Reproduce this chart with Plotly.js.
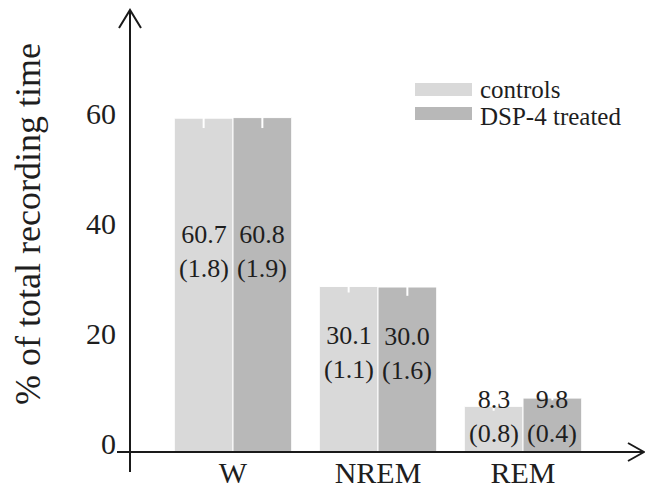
<!DOCTYPE html>
<html><head><meta charset="utf-8">
<script src="https://cdn.plot.ly/plotly-3.0.1.min.js"></script>
<style>html,body{margin:0;padding:0;background:#fff}#chart{width:645px;height:490px}</style>
</head><body><div id="chart"></div>
<script>
// ---- data ----
const categories = ['W', 'NREM', 'REM'];
const seriesNames = ['controls', 'DSP-4 treated'];
const controlsMean = [60.7, 30.1, 8.3];
const controlsSEM = [1.8, 1.1, 0.8];
const treatedMean = [60.8, 30.0, 9.8];
const treatedSEM = [1.9, 1.6, 0.4];
const yTickVals = [0, 20, 40, 60];
const yTitle = '% of total recording time';

// ---- layout helpers ----
const W = 645, H = 490;
const M = {l: 130, r: 5, t: 10, b: 38};
const pw = W - M.l - M.r, ph = H - M.t - M.b;
const px = x => (x - M.l) / pw;
const py = y => (H - M.b - y) / ph;
const FONT = 'Liberation Serif, DejaVu Serif, Noto Serif, Tinos, Nimbus Roman, FreeSerif, Times New Roman, Times, serif';
const TXT = '#1e1e1e';
const colors = ['#d9d9d9', '#b8b8b8'];
const bargap = 0.19;

const means = [controlsMean, treatedMean];
const sems = [controlsSEM, treatedSEM];

const traces = means.map((m, i) => ({
  type: 'bar', name: seriesNames[i], x: categories, y: m,
  marker: {color: colors[i], line: {color: '#ffffff', width: 1}},
  error_y: {type: 'data', array: sems[i], visible: true, color: '#ffffff', thickness: 2, width: 0},
  hoverinfo: 'skip', showlegend: false
}));

const annotations = [];
means.forEach((m, i) => {
  const off = (i - 0.5) * (1 - bargap) / 2;
  m.forEach((v, j) => {
    annotations.push({
      x: j + off, y: Math.max(v * 0.6, 6.5), xref: 'x', yref: 'y',
      text: v.toFixed(1) + '<br>(' + sems[i][j].toFixed(1) + ')',
      showarrow: false, xanchor: 'center', yanchor: 'middle',
      font: {family: FONT, size: 26, color: TXT}
    });
  });
});

// legend (custom)
const legY = [88, 115];
seriesNames.forEach((n, i) => {
  annotations.push({
    x: px(478), y: py(legY[i] + 1), xref: 'paper', yref: 'paper', text: n,
    showarrow: false, xanchor: 'left', yanchor: 'middle',
    font: {family: FONT, size: 25, color: TXT}
  });
});

// y title
annotations.push({
  x: px(28), y: py(224), xref: 'paper', yref: 'paper', text: yTitle,
  textangle: -90, showarrow: false, xanchor: 'center', yanchor: 'middle',
  font: {family: FONT, size: 36, color: TXT}
});

const LC = '#1a1a1a';
const shapes = [
  {type: 'line', xref: 'paper', yref: 'paper', x0: px(130), x1: px(130), y0: py(472), y1: py(11), line: {color: LC, width: 2}},
  {type: 'path', xref: 'paper', yref: 'paper', path: `M${px(119)},${py(28)} L${px(130)},${py(10)} L${px(141)},${py(28)}`, line: {color: LC, width: 2}},
  {type: 'line', xref: 'paper', yref: 'paper', x0: px(117), x1: px(643), y0: py(452), y1: py(452), line: {color: LC, width: 2}},
  {type: 'path', xref: 'paper', yref: 'paper', path: `M${px(628)},${py(443)} L${px(644)},${py(452)} L${px(628)},${py(461)}`, line: {color: LC, width: 2}}
];
seriesNames.forEach((n, i) => {
  shapes.push({type: 'rect', xref: 'paper', yref: 'paper', x0: px(415), x1: px(472), y0: py(83 + 24 * i), y1: py(96 + 24 * i), fillcolor: colors[i], line: {width: 0}});
});

const layout = {
  width: W, height: H, margin: M,
  paper_bgcolor: '#ffffff', plot_bgcolor: '#ffffff',
  barmode: 'group', bargap: bargap, bargroupgap: 0,
  showlegend: false,
  xaxis: {range: [(130 - 233) / 145, (640 - 233) / 145], showgrid: false, zeroline: false, showline: false,
          ticks: '', tickfont: {family: FONT, size: 30, color: TXT}, ticklabelstandoff: 0, fixedrange: true},
  yaxis: {range: [0, 442 / 5.5], tickvals: yTickVals, showgrid: false, zeroline: false, showline: false,
          ticks: '', tickfont: {family: FONT, size: 30, color: TXT}, ticklabelstandoff: 13, ticklabelshift: -9, fixedrange: true},
  shapes: shapes, annotations: annotations,
  font: {family: FONT, color: TXT}
};

Plotly.newPlot('chart', traces, layout, {displayModeBar: false, staticPlot: true});
</script>
</body></html>
